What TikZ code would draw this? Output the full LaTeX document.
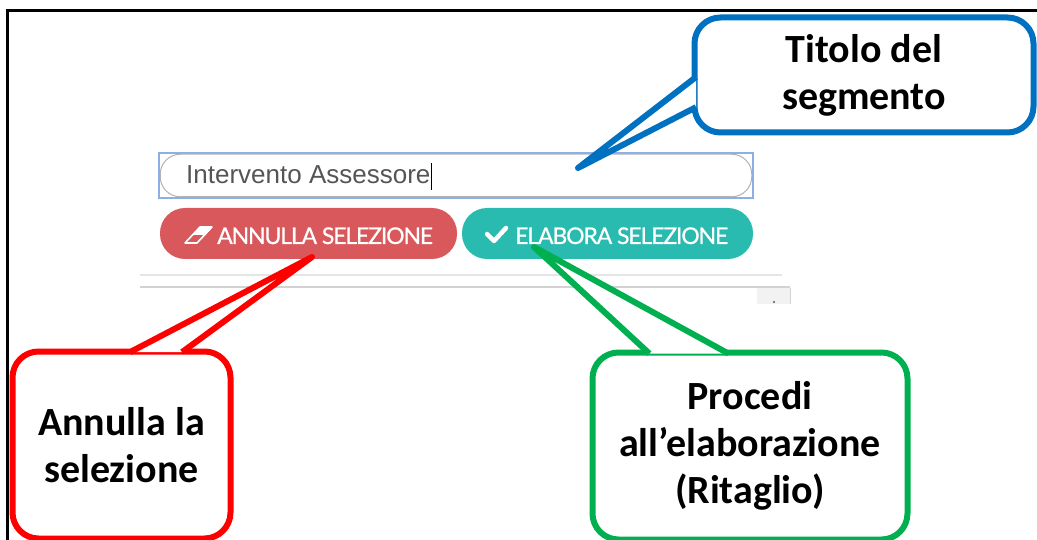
\documentclass[tikz,border=0pt]{standalone}
\usepackage{fontspec}
\setmainfont{Carlito}
\newfontfamily\btnfont{Lato}[LetterSpace=-5, FakeBold=0.7]
\newfontfamily\fieldfont{Liberation Sans}
\usetikzlibrary{positioning}
\usetikzlibrary{calc}
\definecolor{callblue}{RGB}{0,112,192}
\definecolor{callred}{RGB}{255,0,0}
\definecolor{callgreen}{RGB}{0,176,80}
\definecolor{btnred}{RGB}{217,88,92}
\definecolor{btnteal}{RGB}{41,187,176}
\definecolor{fieldblue}{RGB}{140,175,232}
\definecolor{fieldtext}{RGB}{85,85,85}
\tikzset{x=1pt, y=-1pt,
    callout/.style={
        draw,
        fill=white,
        line width=6pt,
        rounded corners=26pt,
        align=center,
        font=\bfseries\fontsize{40}{47}\selectfont},
    pointer/.style={
        fill=white,
        line width=6pt,
        line join=round},
    button/.style={
        rounded corners=25pt,
        minimum height=51pt},
    btntext/.style={
        anchor=base west,
        inner sep=0pt,
        text=white,
        font=\btnfont\fontsize{23}{23}\selectfont}}

\begin{document}
\begin{tikzpicture}
        \useasboundingbox (0,0) rectangle (1037,540);
        \draw[line width=3pt] (1037,11) -- (7,11) -- (7,540);

        \node[draw=fieldblue, line width=1.5pt, minimum width=594pt, minimum height=45pt] (field) at (456,175.5) {};
        \draw[gray!60, line width=1pt, rounded corners=20pt] ($(field.north west)+(2,2)$) rectangle ($(field.south east)+(-2,-2)$);
        \node[anchor=base west, inner sep=0pt, text=fieldtext, font=\fieldfont\fontsize{26}{26}\selectfont] (fieldTxt) at (186,184) {Intervento Assessore};
        \draw[line width=1pt] ($(fieldTxt.base east)+(1,-21)$) -- ($(fieldTxt.base east)+(1,6)$);

        \node[button, fill=btnred, minimum width=297pt] (annullaBtn) at (308.5,233.5) {};
        \node[btntext] (annullaTxt) at (217,244) {ANNULLA SELEZIONE};
        \draw[white, line width=1.6pt, line join=round] (185,243) -- (200,227) -- (212,227) -- (197,243) -- cycle;
        \fill[white] (192.5,235) -- (200,227) -- (212,227) -- (204.5,235) -- cycle;

        \node[button, fill=btnteal, minimum width=291pt] (elaboraBtn) at (607.5,233.5) {};
        \draw[white, line width=4.5pt, line cap=round, line join=round] (487,234) -- (494,241) -- (506,228);
        \node[btntext] (elaboraTxt) at (515,244) {ELABORA SELEZIONE};

        \draw[gray!20, line width=2pt] (140,275) -- (782,275);
        \draw[gray!35, line width=2pt] (140,287) -- (790,287);
        \fill[gray!10] (757,288) rectangle (790,304);
        \draw[gray!35, line width=1pt] (790,288) -- (790,304);
        \fill[gray!70!black] (774,302) circle (1.2);

        \node[callout, draw=callblue, minimum width=339pt, minimum height=115pt] (titolo) at (864,75) {Titolo del\\segmento};
        \node[callout, draw=callred, minimum width=218pt, minimum height=187pt] (annulla) at (121.5,445) {Annulla la\\selezione};
        \node[callout, draw=callgreen, minimum width=315pt, minimum height=187pt] (procedi) at (750,446) {Procedi\\all’elaborazione\\(Ritaglio)};

        \coordinate (tipT) at (578,168);
        \coordinate (tipA) at (312,257);
        \coordinate (tipP) at (534,247);
        \coordinate (tT1) at ($(titolo.north west)+(0,66)$);
        \coordinate (tT2) at ($(titolo.north west)+(0,95)$);
        \coordinate (tA1) at ($(annulla.north west)+(127.5,0)$);
        \coordinate (tA2) at ($(annulla.north west)+(177.5,0)$);
        \coordinate (tP1) at ($(procedi.north west)+(55.5,0)$);
        \coordinate (tP2) at ($(procedi.north west)+(131.5,0)$);

        \filldraw[pointer, draw=callblue] ($(tipT)!1.04!(tT1)$) -- (tipT) -- ($(tipT)!1.04!(tT2)$);
        \filldraw[pointer, draw=callred] ($(tipA)!1.04!(tA1)$) -- (tipA) -- ($(tipA)!1.04!(tA2)$);
        \filldraw[pointer, draw=callgreen] ($(tipP)!1.04!(tP1)$) -- (tipP) -- ($(tipP)!1.04!(tP2)$);
\end{tikzpicture}
\end{document}
